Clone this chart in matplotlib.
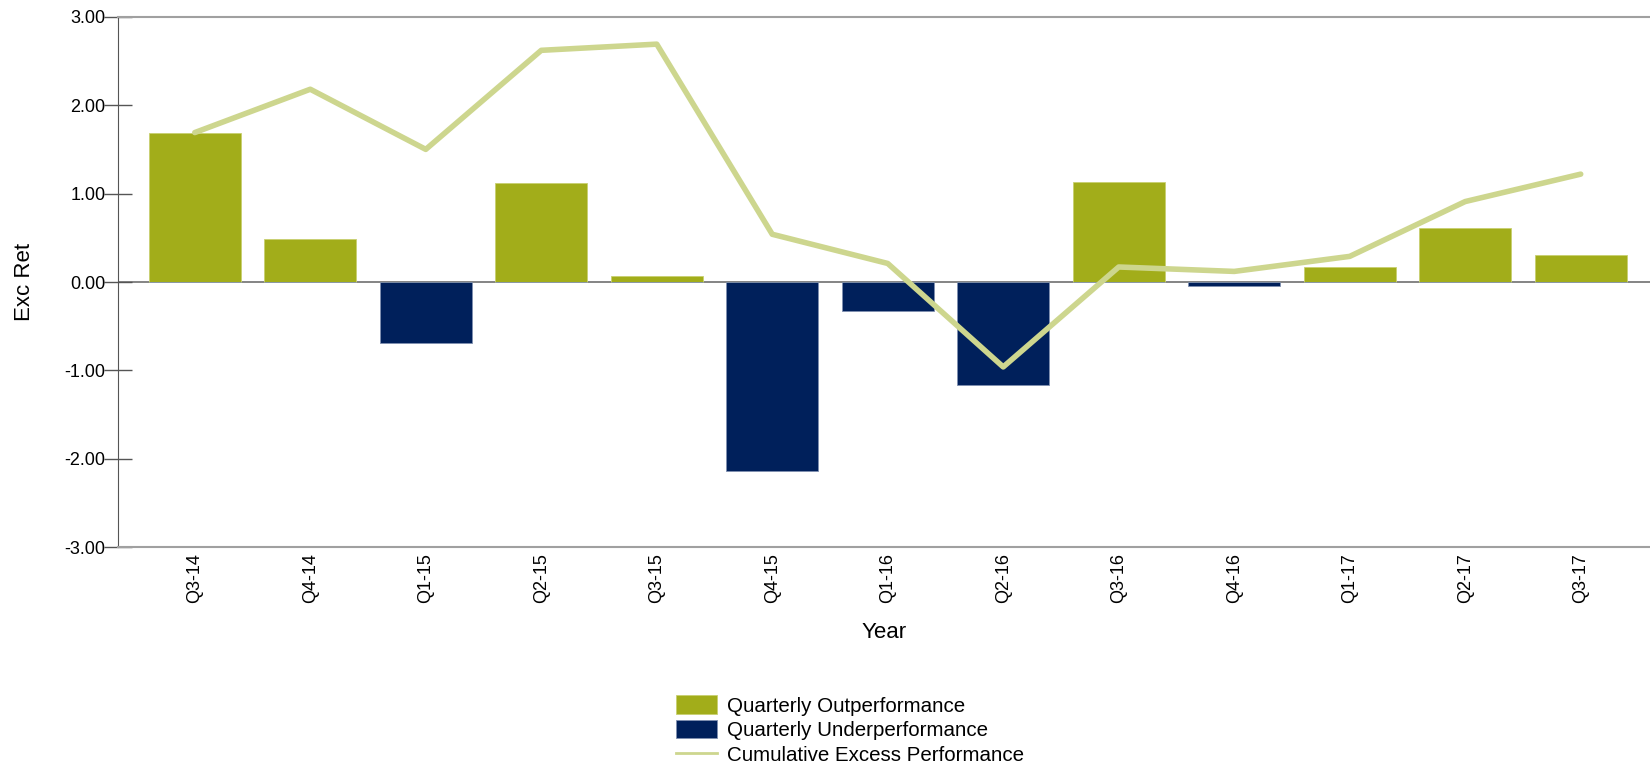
import matplotlib.pyplot as plt
from matplotlib.lines import Line2D
import numpy as np

plt.rcParams['font.family'] = ['Liberation Sans', 'DejaVu Sans']

# quarters and values
quarters = ["Q3-14", "Q4-14", "Q1-15", "Q2-15", "Q3-15", "Q4-15", "Q1-16",
            "Q2-16", "Q3-16", "Q4-16", "Q1-17", "Q2-17", "Q3-17"]
quarterly = [1.69, 0.49, -0.69, 1.12, 0.07, -2.14, -0.33,
             -1.17, 1.13, -0.05, 0.17, 0.61, 0.31]
cumulative = [1.69, 2.18, 1.50, 2.62, 2.69, 0.54, 0.21,
              -0.96, 0.17, 0.12, 0.29, 0.91, 1.22]

olive = "#a2ad1a"
navy = "#00205b"
light = "#cdd68e"

x = np.arange(len(quarters))
q = np.array(quarterly)
out_vals = np.where(q > 0, q, 0)
under_vals = np.where(q < 0, q, 0)

fig = plt.figure(figsize=(16.5, 7.67), dpi=100)
ax = fig.add_axes([0.0715, 0.2864, 0.9285, 0.6918])

b1 = ax.bar(x, out_vals, width=0.8, color=olive, edgecolor="#c8d070", linewidth=0.6,
            zorder=2)
b2 = ax.bar(x, under_vals, width=0.8, color=navy, edgecolor="#8090b0", linewidth=0.6,
            zorder=2)
ax.plot(x, cumulative, color=light, linewidth=4, solid_capstyle="round", zorder=3)

ax.axhline(0, color="#707070", linewidth=1.2, zorder=1)

ax.set_ylim(-3, 3)
ax.set_xlim(-0.665, 12.6)
ax.set_yticks([-3, -2, -1, 0, 1, 2, 3])
ax.set_yticklabels(["%.2f" % v for v in [-3, -2, -1, 0, 1, 2, 3]])
ax.set_xticks(x)
ax.set_xticklabels(quarters, rotation=90)

ax.tick_params(axis="y", direction="inout", length=20, width=1, color="#555555",
               labelsize=13, pad=-1)
ax.tick_params(axis="x", length=0, labelsize=13, pad=4)

for side in ["top", "bottom"]:
    ax.spines[side].set_color("#a0a0a0")
    ax.spines[side].set_linewidth(1.5)
ax.spines["right"].set_visible(False)
ax.spines["left"].set_color("#555555")

ax.set_ylabel("Exc Ret", fontsize=16)
ax.yaxis.set_label_coords(-0.054, 0.5)
ax.set_xlabel("Year", fontsize=16, va="center")
ax.xaxis.set_label_coords(0.5, -0.16)

line_handle = Line2D([], [], color=light, linewidth=2)
fig.legend([b1, b2, line_handle],
           ["Quarterly Outperformance", "Quarterly Underperformance",
            "Cumulative Excess Performance"],
           loc="center", bbox_to_anchor=(0.515, 0.048), frameon=False,
           fontsize=14.8, handlelength=2.0, handleheight=1.0,
           handletextpad=0.5, labelspacing=0.22)

fig.savefig("out.png", dpi=100)
